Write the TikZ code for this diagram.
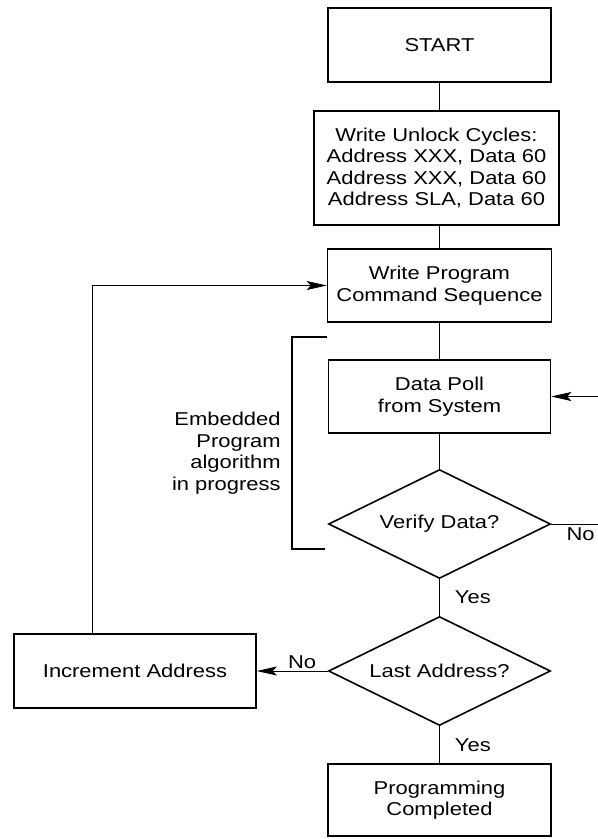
\documentclass[tikz,border=0pt]{standalone}
\usepackage{fontspec}
\setmainfont{Liberation Sans}[FakeStretch=1.18]
\usetikzlibrary{arrows.meta,shapes.geometric}

\begin{document}
\begin{tikzpicture}[x=0.5pt,y=-0.5pt,thin,
        every node/.style={font=\fontsize{9.3}{10.75}\selectfont,align=center,inner sep=1pt},
        box/.style={draw,line width=0.8pt,inner sep=0pt},
        decision/.style={draw,diamond,line width=0.8pt,aspect=2.2,inner sep=0pt,
          minimum width=111pt,minimum height=54.5pt},
        >={Stealth[length=10pt,width=4.5pt,inset=2pt]}]
       \useasboundingbox (0,0) rectangle (598,839);
       \node[box,minimum width=111.5pt,minimum height=37pt](start) at (439.5,45){START};
       \node[box,minimum width=122.5pt,minimum height=57pt](unlock) at (436.5,168)
         {Write Unlock Cycles:\\Address XXX, Data 60\\Address XXX, Data 60\\Address SLA, Data 60};
       \node[box,minimum width=112pt,minimum height=36.5pt](prog) at (439.5,285.5){Write Program\\Command Sequence};
       \node[box,minimum width=111pt,minimum height=36.5pt](poll) at (439.5,396.5){Data Poll\\from System};
       \node[decision](verify) at (439.5,524){Verify Data?};
       \node[decision](last) at (439.5,671){Last Address?};
       \node[box,minimum width=121pt,minimum height=37pt](incr) at (135,671){Increment Address};
       \node[box,minimum width=111.5pt,minimum height=36pt](done) at (439.5,800){Programming\\Completed};
       \node[anchor=east,align=right](embed) at (283,453){Embedded\\Program\\algorithm\\in progress};
       \coordinate (loop) at (92,286);
       \coordinate (feed) at (598,396.5);
       \coordinate (exit) at (598,524);
       \draw (start)--(start.south|-unlock.north);
       \draw (prog.north|-unlock.south)--(prog);
       \draw (prog)--(poll);
       \draw (poll)--(verify);
       \draw (verify)--node[right,xshift=6.5pt]{Yes}(last);
       \draw (last)--node[right,xshift=6.5pt]{Yes}(done);
       \draw[->](last)--node[above,pos=0.36]{No}(incr);
       \draw[->](loop|-incr.north)|-(prog);
       \draw[->](feed)--(poll);
       \draw (verify)--(exit)node[below left,inner sep=1.5pt]{No};
       \draw[line width=0.8pt](327,337)-|(292,549)--(325,549);
    \end{tikzpicture}
\end{document}
